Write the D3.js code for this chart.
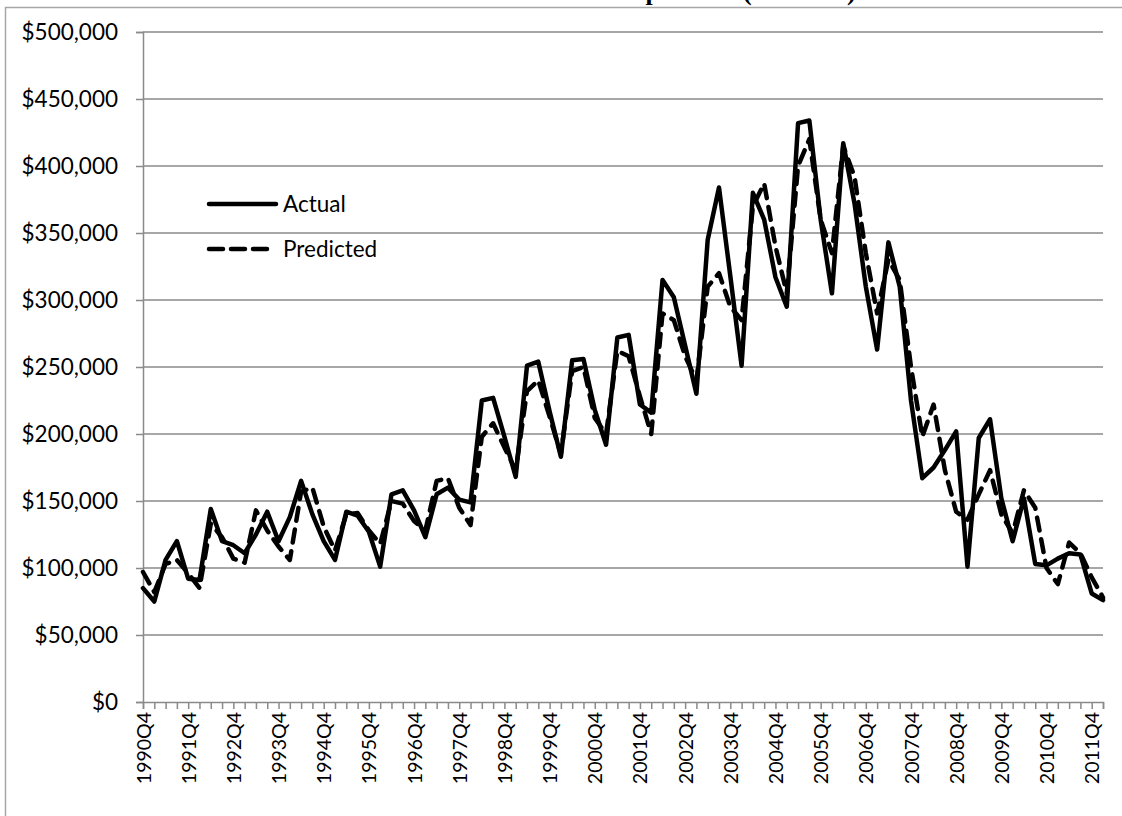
<!DOCTYPE html>
<html>
<head>
<meta charset="utf-8">
<script src="https://cdn.jsdelivr.net/npm/d3@7"></script>
<style>
  html, body { margin: 0; padding: 0; background: #ffffff; }
  svg { display: block; }
</style>
</head>
<body>
<svg id="chart" width="1122" height="816"></svg>
<script>
// Quarterly categories, 1990Q4 through 2012Q1
const quarters = [
  "1990Q4",
  "1991Q1","1991Q2","1991Q3","1991Q4",
  "1992Q1","1992Q2","1992Q3","1992Q4",
  "1993Q1","1993Q2","1993Q3","1993Q4",
  "1994Q1","1994Q2","1994Q3","1994Q4",
  "1995Q1","1995Q2","1995Q3","1995Q4",
  "1996Q1","1996Q2","1996Q3","1996Q4",
  "1997Q1","1997Q2","1997Q3","1997Q4",
  "1998Q1","1998Q2","1998Q3","1998Q4",
  "1999Q1","1999Q2","1999Q3","1999Q4",
  "2000Q1","2000Q2","2000Q3","2000Q4",
  "2001Q1","2001Q2","2001Q3","2001Q4",
  "2002Q1","2002Q2","2002Q3","2002Q4",
  "2003Q1","2003Q2","2003Q3","2003Q4",
  "2004Q1","2004Q2","2004Q3","2004Q4",
  "2005Q1","2005Q2","2005Q3","2005Q4",
  "2006Q1","2006Q2","2006Q3","2006Q4",
  "2007Q1","2007Q2","2007Q3","2007Q4",
  "2008Q1","2008Q2","2008Q3","2008Q4",
  "2009Q1","2009Q2","2009Q3","2009Q4",
  "2010Q1","2010Q2","2010Q3","2010Q4",
  "2011Q1","2011Q2","2011Q3","2011Q4",
  "2012Q1"
];

// Actual values (dollars)
const actual = [
  85000,
  75000, 106000, 120000, 92000,
  91000, 144000, 120000, 117000,
  111000, 125000, 142000, 120000,
  138000, 165000, 140000, 120000,
  106000, 142000, 139000, 127000,
  101000, 155000, 158000, 143000,
  123000, 155000, 160000, 151000,
  149000, 225000, 227000, 198000,
  168000, 251000, 254000, 217000,
  183000, 255000, 256000, 218000,
  192000, 272000, 274000, 222000,
  216000, 315000, 302000, 266000,
  230000, 345000, 384000, 318000,
  251000, 380000, 360000, 317000,
  295000, 432000, 434000, 360000,
  305000, 417000, 372000, 310000,
  263000, 343000, 310000, 225000,
  167000, 175000, 188000, 202000,
  101000, 197000, 211000, 152000,
  120000, 152000, 103000, 102000,
  107000, 111000, 110000, 81000,
  76000
];

// Predicted values (dollars)
const predicted = [
  97000,
  82000, 103000, 106000, 96000,
  85000, 133000, 123000, 107000,
  104000, 143000, 128000, 116000,
  106000, 157000, 160000, 131000,
  113000, 140000, 141000, 128000,
  118000, 150000, 148000, 135000,
  128000, 165000, 167000, 145000,
  132000, 198000, 208000, 190000,
  173000, 232000, 240000, 213000,
  185000, 247000, 250000, 212000,
  200000, 262000, 258000, 228000,
  200000, 290000, 285000, 258000,
  240000, 310000, 320000, 295000,
  285000, 370000, 387000, 340000,
  305000, 400000, 420000, 360000,
  335000, 415000, 392000, 335000,
  290000, 330000, 315000, 250000,
  198000, 222000, 173000, 142000,
  136000, 155000, 173000, 140000,
  126000, 158000, 145000, 100000,
  88000, 119000, 111000, 93000,
  78000
];

// Axis ticks
const yTicks = [0, 50000, 100000, 150000, 200000, 250000, 300000, 350000, 400000, 450000, 500000];
const xLabelQuarters = quarters.filter(q => q.endsWith("Q4"));

const seriesNames = ["Actual", "Predicted"];
const titleMain = "Median Home Sales price";
const titleUnit = "(Nominal)";

const svg = d3.select("#chart");
const W = 1122, H = 816;
const plot = { left: 143, right: 1103, top: 32, bottom: 702 };
const gridColor = "#8a8a8a";
const labelFont = "Lato, 'Open Sans', sans-serif";

// Outer chart border
svg.append("rect")
  .attr("x", 5.5).attr("y", 7.5)
  .attr("width", W + 10).attr("height", H + 10)
  .attr("fill", "none")
  .attr("stroke", "#a6a6a6")
  .attr("stroke-width", 1.5);

// Title, running along the very top edge
const title = svg.append("text")
  .attr("x", 418).attr("y", 0)
  .attr("font-family", "'Liberation Serif', 'Times New Roman', serif")
  .attr("font-weight", "bold")
  .attr("font-size", 26)
  .attr("fill", "#000");
title.append("tspan").text(titleMain);
title.append("tspan").attr("x", 743).text(titleUnit);

const x = d3.scalePoint()
  .domain(quarters)
  .range([plot.left, plot.right])
  .padding(0);

const y = d3.scaleLinear()
  .domain([0, 500000])
  .range([plot.bottom, plot.top]);

// Horizontal gridlines
svg.append("g")
  .selectAll("line")
  .data(yTicks.filter(d => d > 0))
  .join("line")
  .attr("x1", plot.left).attr("x2", plot.right)
  .attr("y1", d => y(d)).attr("y2", d => y(d))
  .attr("stroke", gridColor)
  .attr("stroke-width", 1.5);

// Y axis
const yAxis = d3.axisLeft(y)
  .tickValues(yTicks)
  .tickSize(7)
  .tickPadding(18)
  .tickFormat(d => "$" + d3.format(",")(d));

const gy = svg.append("g")
  .attr("transform", `translate(${plot.left},0)`)
  .call(yAxis);
gy.select(".domain").attr("stroke", gridColor).attr("stroke-width", 1.5);
gy.selectAll(".tick line").attr("stroke", gridColor).attr("stroke-width", 1.5);
gy.selectAll(".tick text")
  .attr("font-family", labelFont)
  .attr("font-size", 22.5)
  .attr("fill", "#000");

// X axis: a tick at every quarter, labels every fourth quarter
const xAxis = d3.axisBottom(x)
  .tickSize(7)
  .tickPadding(10)
  .tickFormat(d => xLabelQuarters.includes(d) ? d : "");

const gx = svg.append("g")
  .attr("transform", `translate(0,${plot.bottom})`)
  .call(xAxis);
gx.select(".domain").attr("stroke", gridColor).attr("stroke-width", 1.5);
gx.selectAll(".tick line").attr("stroke", gridColor).attr("stroke-width", 1.5);
gx.selectAll(".tick text")
  .attr("font-family", labelFont)
  .attr("font-size", 19.5)
  .attr("fill", "#000")
  .attr("text-anchor", "end")
  .attr("dy", "0.36em")
  .attr("transform", "translate(0,10) rotate(-90)")
  .attr("x", 0)
  .attr("y", 0);

// Series lines
const lineGen = d3.line()
  .x((d, i) => x(quarters[i]))
  .y(d => y(d));

svg.append("path")
  .datum(predicted)
  .attr("d", lineGen)
  .attr("fill", "none")
  .attr("stroke", "#000")
  .attr("stroke-width", 4.5)
  .attr("stroke-linejoin", "round")
  .attr("stroke-linecap", "round")
  .attr("stroke-dasharray", "13,9");

svg.append("path")
  .datum(actual)
  .attr("d", lineGen)
  .attr("fill", "none")
  .attr("stroke", "#000")
  .attr("stroke-width", 4.5)
  .attr("stroke-linejoin", "round")
  .attr("stroke-linecap", "round");

// Legend
const legend = svg.append("g");
const legendItems = [
  { name: seriesNames[0], y: 204, x2: 276, dash: null },
  { name: seriesNames[1], y: 249, x2: 268, dash: "14,8" }
];
legendItems.forEach(item => {
  legend.append("line")
    .attr("x1", 209).attr("x2", item.x2)
    .attr("y1", item.y).attr("y2", item.y)
    .attr("stroke", "#000")
    .attr("stroke-width", 4.5)
    .attr("stroke-linecap", "round")
    .attr("stroke-dasharray", item.dash);
  legend.append("text")
    .attr("x", 283).attr("y", item.y + 8)
    .attr("font-family", labelFont)
    .attr("font-size", 22.5)
    .attr("fill", "#000")
    .text(item.name);
});
</script>
</body>
</html>
